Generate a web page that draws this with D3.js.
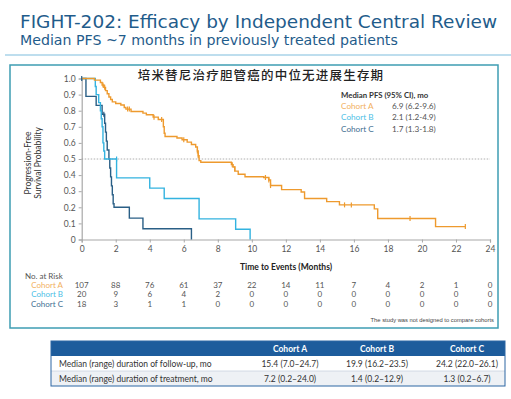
<!DOCTYPE html>
<html>
<head>
<meta charset="utf-8">
<script src="https://cdn.jsdelivr.net/npm/d3@7"></script>
<style>
  html, body { margin: 0; padding: 0; background: #fff; }
  svg { display: block; }
</style>
</head>
<body>
<svg id="chart" width="511" height="399"></svg>
<script>
// ---- data ----
const cohorts = ["Cohort A", "Cohort B", "Cohort C"];
const medianLabels = ["6.9 (6.2-9.6)", "2.1 (1.2-4.9)", "1.7 (1.3-1.8)"];

// KM steps: [month, survival after the step]
const stepsA = [
  [0, 1.0], [0.75, 0.99], [1.1, 0.975], [1.2, 0.96], [1.3, 0.945], [1.4, 0.925],
  [1.5, 0.905], [1.6, 0.885], [1.7, 0.87], [1.8, 0.855], [2.0, 0.845], [2.3, 0.835],
  [2.5, 0.82], [2.6, 0.81], [2.9, 0.795], [3.6, 0.785], [3.8, 0.775], [4.2, 0.76],
  [4.5, 0.745], [4.8, 0.7], [4.85, 0.66], [4.9, 0.64], [5.6, 0.63], [5.9, 0.62],
  [6.2, 0.605], [6.45, 0.59], [6.7, 0.575], [6.8, 0.55], [6.85, 0.52], [6.9, 0.49],
  [7.0, 0.48], [8.8, 0.465], [8.9, 0.45], [9.0, 0.425], [9.2, 0.405], [9.6, 0.39],
  [10.7, 0.385], [11.0, 0.37], [11.1, 0.335], [11.75, 0.31], [12.9, 0.295],
  [13.1, 0.255], [14.4, 0.235], [15.15, 0.215], [17.2, 0.19], [17.4, 0.13],
  [20.8, 0.08], [22.55, 0.08]
];
const stepsB = [
  [0, 1.0], [0.8, 0.95], [0.85, 0.9], [1.0, 0.85], [1.1, 0.8], [1.15, 0.75],
  [1.2, 0.7], [1.25, 0.6], [1.3, 0.55], [1.35, 0.5], [2.05, 0.383], [4.0, 0.319],
  [4.85, 0.255], [6.9, 0.128], [9.05, 0.064], [9.9, 0]
];
const stepsC = [
  [0, 1.0], [0.25, 0.889], [0.85, 0.833], [1.2, 0.778], [1.35, 0.722], [1.4, 0.667],
  [1.45, 0.611], [1.5, 0.556], [1.6, 0.5], [1.65, 0.444], [1.7, 0.389], [1.75, 0.333],
  [1.8, 0.278], [1.85, 0.222], [1.9, 0.2], [2.8, 0.133], [3.6, 0.067], [6.45, 0]
];

// censored observations
const censorA = [
  [1.25, 0.96], [1.35, 0.945], [2.7, 0.81], [2.8, 0.81], [4.25, 0.76], [4.7, 0.745],
  [6.0, 0.62], [6.8, 0.55], [6.85, 0.52], [8.85, 0.465], [9.0, 0.44], [10.8, 0.385],
  [11.0, 0.37], [11.1, 0.335], [15.45, 0.215], [15.85, 0.215], [19.3, 0.13], [22.55, 0.08]
];
const censorB = [[2.05, 0.5]];
const censorC = [[0, 1.0], [1.3, 0.778]];

const xTicks = [0, 2, 4, 6, 8, 10, 12, 14, 16, 18, 20, 22, 24];
const yTicks = [0, 0.1, 0.2, 0.3, 0.4, 0.5, 0.6, 0.7, 0.8, 0.9, 1.0];
const atRiskA = [107, 88, 76, 61, 37, 22, 14, 11, 7, 4, 2, 1, 0];
const atRiskB = [20, 9, 6, 4, 2, 0, 0, 0, 0, 0, 0, 0, 0];
const atRiskC = [18, 3, 1, 1, 0, 0, 0, 0, 0, 0, 0, 0, 0];

const tableCols = ["Cohort A", "Cohort B", "Cohort C"];
const tableRows = [
  "Median (range) duration of follow-up, mo",
  "Median (range) duration of treatment, mo"
];
const tableValues = [
  ["15.4 (7.0\u201324.7)", "19.9 (16.2\u201323.5)", "24.2 (22.0\u201326.1)"],
  ["7.2 (0.2\u201324.0)", "1.4 (0.2\u201312.9)", "1.3 (0.2\u20136.7)"]
];

// ---- drawing ----
const colors = ["#ee9a2e", "#33b3e0", "#2a5f86"];
const labelColors = ["#f2b060", "#4cc0e6", "#3f6f92"];
const titleBlue = "#1f5c8b";
const bodyFont = "Lato, 'Open Sans', sans-serif";

const svg = d3.select("#chart");

const fitText = (sel, width) => {
  const len = sel.node().getComputedTextLength();
  const fs = parseFloat(sel.attr("font-size"));
  sel.attr("font-size", (fs * width / len).toFixed(2));
};

// header
const title = svg.append("text")
  .attr("x", 20).attr("y", 28)
  .attr("font-family", "'DejaVu Sans', Verdana, sans-serif")
  .attr("font-size", 18)
  .attr("fill", titleBlue)
  .text("FIGHT-202: Efficacy by Independent Central Review");
fitText(title, 477);

const subtitle = svg.append("text")
  .attr("x", 20).attr("y", 45)
  .attr("font-family", "'DejaVu Sans', Verdana, sans-serif")
  .attr("font-size", 13)
  .attr("fill", titleBlue)
  .text("Median PFS ~7 months in previously treated patients");
fitText(subtitle, 378);

svg.append("line")
  .attr("x1", 5).attr("x2", 511).attr("y1", 55).attr("y2", 55)
  .attr("stroke", "#a9d3e8").attr("stroke-width", 1.5);

// framed chart panel
svg.append("rect")
  .attr("x", 10).attr("y", 65).attr("width", 488).attr("height", 263)
  .attr("fill", "#fff").attr("stroke", "#3e9db3").attr("stroke-width", 1.5);

svg.append("text")
  .attr("x", 261).attr("y", 79.5)
  .attr("text-anchor", "middle")
  .attr("font-family", "'Noto Sans CJK SC', sans-serif")
  .attr("font-size", 12.5)
  .attr("font-weight", 500)
  .attr("letter-spacing", 1.2)
  .attr("fill", "#222")
  .text("培米替尼治疗胆管癌的中位无进展生存期");

const x = d3.scaleLinear().domain([0, 24]).range([81.7, 490]);
const y = d3.scaleLinear().domain([0, 1]).range([239.5, 78.5]);

const yAxis = svg.append("g")
  .attr("transform", `translate(${x(0)},0)`)
  .call(d3.axisLeft(y).tickValues(yTicks).tickSize(3).tickPadding(3)
    .tickFormat((d) => (d === 0 ? "0" : d3.format(".1f")(d))));
const xAxis = svg.append("g")
  .attr("transform", `translate(0,${y(0)})`)
  .call(d3.axisBottom(x).tickValues(xTicks).tickSize(3).tickPadding(3));

[xAxis, yAxis].forEach((g) => {
  g.select(".domain").attr("stroke", "#a8a8a8").attr("stroke-width", 1.2);
  g.selectAll(".tick line").attr("stroke", "#a8a8a8");
  g.selectAll(".tick text")
    .attr("font-family", bodyFont).attr("font-size", 8.5).attr("fill", "#555");
});

svg.append("g")
  .attr("font-family", bodyFont).attr("font-size", 8.5).attr("fill", "#333")
  .attr("text-anchor", "middle")
  .attr("transform", "translate(35.5,163) rotate(-90)")
  .selectAll("text")
  .data(["Progression-Free", "Survival Probability"])
  .join("text")
  .attr("y", (d, i) => -5 + i * 10.5)
  .text((d) => d);

// median reference line
svg.append("line")
  .attr("x1", x(0)).attr("x2", x(24)).attr("y1", y(0.5)).attr("y2", y(0.5))
  .attr("stroke", "#999").attr("stroke-width", 0.8).attr("stroke-dasharray", "1.5,1.5");

// KM curves
const line = d3.line()
  .x((d) => x(d[0]))
  .y((d) => y(d[1]))
  .curve(d3.curveStepAfter);

const curves = [stepsA, stepsB, stepsC];
const censors = [censorA, censorB, censorC];

svg.append("g").selectAll("path")
  .data([2, 1, 0])
  .join("path")
  .attr("d", (i) => line(curves[i]))
  .attr("fill", "none")
  .attr("stroke", (i) => colors[i])
  .attr("stroke-width", 1.4);

censors.forEach((pts, i) => {
  svg.append("g").selectAll("line")
    .data(pts)
    .join("line")
    .attr("x1", (d) => x(d[0])).attr("x2", (d) => x(d[0]))
    .attr("y1", (d) => y(d[1]) - 2.5).attr("y2", (d) => y(d[1]) + 2.5)
    .attr("stroke", colors[i]).attr("stroke-width", 1.2);
});

// legend
svg.append("text")
  .attr("x", 341).attr("y", 98)
  .attr("font-family", bodyFont).attr("font-size", 7.8).attr("font-weight", 700)
  .attr("fill", "#333")
  .text("Median PFS (95% CI), mo");

const legend = svg.append("g")
  .attr("font-family", bodyFont).attr("font-size", 8.2);
legend.selectAll("text.name")
  .data(cohorts)
  .join("text")
  .attr("class", "name")
  .attr("x", 341).attr("y", (d, i) => 109 + i * 11.3)
  .attr("fill", (d, i) => labelColors[i])
  .text((d) => d);
legend.selectAll("text.val")
  .data(medianLabels)
  .join("text")
  .attr("class", "val")
  .attr("x", 392).attr("y", (d, i) => 109 + i * 11.3)
  .attr("fill", "#555")
  .text((d) => d);

svg.append("text")
  .attr("x", 286).attr("y", 269.5)
  .attr("text-anchor", "middle")
  .attr("font-family", bodyFont).attr("font-size", 8.5).attr("font-weight", 700)
  .attr("fill", "#222")
  .text("Time to Events (Months)");

// numbers at risk
const riskG = svg.append("g").attr("font-family", bodyFont).attr("font-size", 8);
riskG.append("text")
  .attr("x", 25).attr("y", 278.5).attr("fill", "#555")
  .text("No. at Risk");
const riskRows = [atRiskA, atRiskB, atRiskC];
riskRows.forEach((row, i) => {
  const yy = 287.5 + i * 9.6;
  riskG.append("text")
    .attr("x", 63).attr("y", yy).attr("text-anchor", "end")
    .attr("fill", labelColors[i])
    .text(cohorts[i]);
  riskG.selectAll(null)
    .data(row)
    .join("text")
    .attr("x", (d, j) => x(xTicks[j])).attr("y", yy)
    .attr("text-anchor", "middle").attr("fill", "#555")
    .text((d) => d);
});

svg.append("text")
  .attr("x", 494).attr("y", 322)
  .attr("text-anchor", "end")
  .attr("font-family", "'Liberation Sans', Arial, sans-serif").attr("font-size", 5.8)
  .attr("fill", "#444")
  .text("The study was not designed to compare cohorts");

// summary table
const tX = 51, tW = 454, rowH = 15, tY = 341;
const colX = [290, 377, 467];
const table = svg.append("g").attr("font-family", bodyFont);
table.append("rect")
  .attr("x", tX).attr("y", tY).attr("width", tW).attr("height", rowH)
  .attr("fill", "#1d5c9c");
table.selectAll("rect.row")
  .data(tableRows)
  .join("rect")
  .attr("class", "row")
  .attr("x", tX).attr("y", (d, i) => tY + rowH * (i + 1))
  .attr("width", tW).attr("height", rowH)
  .attr("fill", (d, i) => (i === 1 ? "#eef1f5" : "#fff"));
table.append("line")
  .attr("x1", tX).attr("x2", tX + tW)
  .attr("y1", tY + rowH * 2).attr("y2", tY + rowH * 2)
  .attr("stroke", "#c9d3df").attr("stroke-width", 0.8);
table.append("rect")
  .attr("x", tX).attr("y", tY).attr("width", tW).attr("height", rowH * 3)
  .attr("fill", "none").attr("stroke", "#2d66a3").attr("stroke-width", 1);

table.selectAll("text.head")
  .data(tableCols)
  .join("text")
  .attr("class", "head")
  .attr("x", (d, i) => colX[i]).attr("y", tY + 10.5)
  .attr("text-anchor", "middle").attr("font-size", 8.5).attr("font-weight", 700)
  .attr("fill", "#fff")
  .text((d) => d);
table.selectAll("text.rowlab")
  .data(tableRows)
  .join("text")
  .attr("class", "rowlab")
  .attr("x", 59).attr("y", (d, i) => tY + rowH * (i + 1) + 10.5)
  .attr("font-size", 8.5).attr("fill", "#333")
  .text((d) => d);
tableValues.forEach((vals, r) => {
  table.selectAll(null)
    .data(vals)
    .join("text")
    .attr("x", (d, i) => colX[i]).attr("y", tY + rowH * (r + 1) + 10.5)
    .attr("text-anchor", "middle").attr("font-size", 8.5).attr("fill", "#333")
    .text((d) => d);
});
</script>
</body>
</html>
